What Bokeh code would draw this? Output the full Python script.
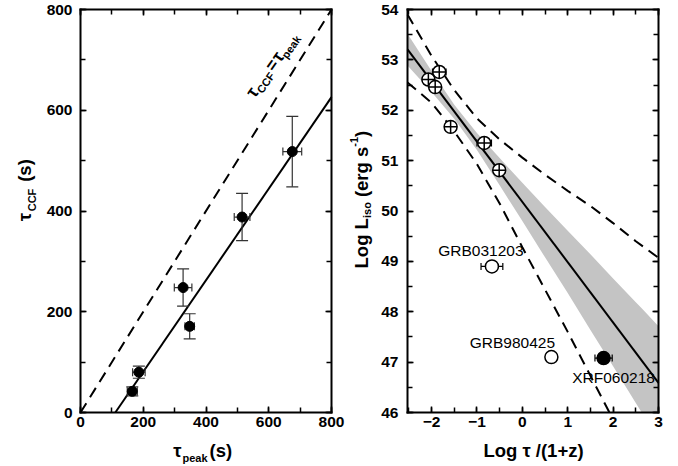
import math
from bokeh.plotting import figure
from bokeh.layouts import row
from bokeh.models import (ColumnDataSource, LinearAxis, SingleIntervalTicker, Range1d)
from bokeh.core.properties import value
from bokeh.embed import file_html
from bokeh.resources import INLINE

FONT = "Liberation Sans"

# ---------------- data: left panel ----------------
tau_peak = [165, 186, 327, 348, 515, 675]
tau_peak_err = [16, 20, 28, 15, 25, 30]
tau_ccf = [42, 80, 248, 171, 388, 518]
tau_ccf_err = [9, 12, 37, 25, 47, 70]
fit_left_x = [111, 800]
fit_left_y = [0, 626]
equal_x = [0, 800]
equal_y = [0, 800]

# ---------------- data: right panel ----------------
lag_x = [-2.07, -1.92, -1.83, -1.58, -0.84, -0.51]
lag_y = [52.61, 52.46, 52.76, 51.67, 51.35, 50.81]
lag_xerr = [0.12, 0.0, 0.15, 0.0, 0.16, 0.12]

out_names = ["GRB031203", "GRB980425", "XRF060218"]
out_x = [-0.67, 0.64, 1.79]
out_y = [48.90, 47.10, 47.08]
out_xerr = [0.24, 0.0, 0.19]

fit_right_x = [-2.53, 3.0]
fit_right_y = [53.21, 46.59]

band_x = [-2.53, -2.0, -1.5, -1.0, -0.5, 0.0, 0.5, 1.0, 1.5, 2.0, 2.5, 2.63, 3.0]
band_upper = [53.52, 52.78, 52.11, 51.55, 51.05, 50.56, 50.08, 49.61, 49.14, 48.66, 48.19, 48.07, 47.71]
band_lower = [52.89, 52.36, 51.83, 51.21, 50.51, 49.80, 49.08, 48.37, 47.64, 46.92, 46.19, 46.00, 46.00]

pred_upper_x = [-2.53, -2.0, -1.5, -1.0, -0.5, 0.0, 0.5, 1.0, 1.5, 2.0, 2.5, 3.0]
pred_upper_y = [53.90, 53.08, 52.40, 51.84, 51.42, 51.06, 50.72, 50.40, 50.10, 49.76, 49.40, 49.07]
pred_lower_x = [-2.53, -2.0, -1.5, -1.0, -0.5, 0.0, 0.5, 1.0, 1.5, 1.92]
pred_lower_y = [52.55, 52.15, 51.58, 50.93, 50.15, 49.28, 48.44, 47.60, 46.73, 46.00]

# ---------------- layout geometry (page pixels) ----------------
CH = 464                      # canvas height
BOX_Y0, BOX_Y1 = 9, 412       # top / bottom of both plot boxes
W1, W2 = 345, 331             # canvas widths
L_BOX = (80, 331)             # left box, page x
R_BOX = (407, 658)            # right box, page x
LXR, LYR = (0, 800), (0, 800)
RXR, RYR = (-2.53, 3.0), (46, 54)
DASH = "11 7"


class Panel:
    def __init__(self, cx0, cw, box, xr, yr):
        self.cx0, self.cw, self.box, self.xr, self.yr = cx0, cw, box, xr, yr
        self.kx = (xr[1] - xr[0]) / (box[1] - box[0])
        self.ky = (yr[1] - yr[0]) / (BOX_Y1 - BOX_Y0)

    def to_data(self, px, py):
        return (self.xr[0] + (px - self.box[0]) * self.kx,
                self.yr[0] + (BOX_Y1 - py) * self.ky)

    def ranges(self):
        x0, _ = self.to_data(self.cx0, 0)
        x1, _ = self.to_data(self.cx0 + self.cw, 0)
        _, y1 = self.to_data(0, 0)
        _, y0 = self.to_data(0, CH)
        return (x0, x1), (y0, y1)


def style_axis(ax, ticker, show, standoff):
    ax.ticker = ticker
    ax.axis_line_width = 2
    ax.axis_line_color = "black"
    ax.axis_line_cap = "square"
    ax.major_tick_in = 6
    ax.major_tick_out = 0
    ax.minor_tick_in = 5
    ax.minor_tick_out = 0
    ax.major_tick_line_width = 1.5
    ax.minor_tick_line_width = 1.5
    ax.major_tick_line_color = "black"
    ax.minor_tick_line_color = "black"
    ax.major_label_text_font = FONT
    ax.major_label_text_font_style = "bold"
    ax.major_label_text_font_size = "15.5px"
    ax.major_label_text_color = "black" if show else None
    ax.major_label_standoff = standoff


def make_fig(panel, xint, yint, xstand, ystand):
    (x0, x1), (y0, y1) = panel.ranges()
    p = figure(width=panel.cw, height=CH, title=None,
               x_range=Range1d(x0, x1), y_range=Range1d(y0, y1),
               x_axis_type=None, y_axis_type=None,
               output_backend="svg", toolbar_location=None,
               min_border_left=0, min_border_right=0,
               min_border_top=0, min_border_bottom=0)
    p.outline_line_color = None
    p.background_fill_color = "white"
    p.border_fill_color = "white"
    xr, yr = panel.xr, panel.yr
    specs = (("below", xint, True, yr[0], xr, xstand),
             ("above", xint, False, yr[1], xr, 0),
             ("left", yint, True, xr[0], yr, ystand),
             ("right", yint, False, xr[1], yr, 0))
    for loc, intv, show, fix, bnd, st in specs:
        ax = LinearAxis(fixed_location=fix, bounds=bnd)
        style_axis(ax, SingleIntervalTicker(interval=intv, num_minor_ticks=2), show, st)
        p.add_layout(ax, loc)
    return p


def add_text(p, panel, px, py, text, size, angle=0):
    """centred text at page pixel (px, py)"""
    x, y = panel.to_data(px, py)
    p.text(x=[x], y=[y], text=[text], text_font=value(FONT), text_font_size=size,
           text_font_style="bold", text_color="black", angle=angle,
           angle_units="deg", text_align="center", text_baseline="middle")


# ================= left panel =================
P1 = Panel(0, W1, L_BOX, LXR, LYR)
p1 = make_fig(P1, 200, 200, 4, 8)

p1.line(equal_x, equal_y, line_color="black", line_width=2, line_dash=DASH)
p1.line(fit_left_x, fit_left_y, line_color="black", line_width=2)

src1 = ColumnDataSource(dict(
    x=tau_peak, y=tau_ccf,
    xl=[a - e for a, e in zip(tau_peak, tau_peak_err)],
    xu=[a + e for a, e in zip(tau_peak, tau_peak_err)],
    yl=[a - e for a, e in zip(tau_ccf, tau_ccf_err)],
    yu=[a + e for a, e in zip(tau_ccf, tau_ccf_err)],
))
EC = "#333333"
p1.segment(x0="xl", y0="y", x1="xu", y1="y", source=src1, line_color=EC, line_width=1.2)
p1.segment(x0="x", y0="yl", x1="x", y1="yu", source=src1, line_color=EC, line_width=1.2)
for col in ("xl", "xu"):
    p1.scatter(x=col, y="y", source=src1, marker="dash", size=8, angle=math.pi / 2,
               line_color=EC, line_width=1.2)
for col in ("yl", "yu"):
    p1.scatter(x="x", y=col, source=src1, marker="dash", size=12,
               line_color=EC, line_width=1.2)
p1.scatter(x="x", y="y", source=src1, marker="circle", size=10,
           fill_color="black", line_color="black")

# label along the dashed line: (along, perpendicular-down) offsets from first tau
ANG = 55
ca, sa = math.cos(math.radians(ANG)), math.sin(math.radians(ANG))
BASE = (251.7, 91.7)
for (al, pe), txt, sz in (((0, 0), "τ", "18px"),
                          ((15.5, 5.5), "CCF", "11px"),
                          ((33.5, 0.5), "=", "17px"),
                          ((43.5, 0.5), "τ", "18px"),
                          ((59.5, 6.0), "peak", "11px")):
    px = BASE[0] + al * ca + pe * sa
    py = BASE[1] - al * sa + pe * ca
    add_text(p1, P1, px, py, txt, sz, angle=ANG)

# axis titles
add_text(p1, P1, 177.0, 450.0, "τ", "18.5px")
add_text(p1, P1, 194.5, 457.5, "peak", "11px")
add_text(p1, P1, 220.3, 450.0, "(s)", "18.5px")

add_text(p1, P1, 24.0, 216.5, "τ", "18.5px", angle=90)
add_text(p1, P1, 31.0, 199.5, "CCF", "11px", angle=90)
add_text(p1, P1, 24.0, 170.0, "(s)", "18.5px", angle=90)

# ================= right panel =================
P2 = Panel(W1, W2, R_BOX, RXR, RYR)
p2 = make_fig(P2, 1, 1, 4, 9)

p2.varea(x=band_x, y1=band_lower, y2=band_upper, fill_color="#c4c4c4", fill_alpha=1)
p2.line(pred_upper_x, pred_upper_y, line_color="black", line_width=2, line_dash=DASH)
p2.line(pred_lower_x, pred_lower_y, line_color="black", line_width=2, line_dash=DASH)
p2.line(fit_right_x, fit_right_y, line_color="black", line_width=2)

ex, ey, el, eu = [], [], [], []
for x, y, e in list(zip(lag_x, lag_y, lag_xerr)) + list(zip(out_x, out_y, out_xerr)):
    if e > 0:
        ex.append(x); ey.append(y); el.append(x - e); eu.append(x + e)
src_e = ColumnDataSource(dict(x=ex, y=ey, xl=el, xu=eu))
p2.segment(x0="xl", y0="y", x1="xu", y1="y", source=src_e, line_color="black", line_width=1.2)
for col in ("xl", "xu"):
    p2.scatter(x=col, y="y", source=src_e, marker="dash", size=7, angle=math.pi / 2,
               line_color="black", line_width=1.2)

p2.scatter(x=lag_x, y=lag_y, marker="circle_cross", size=13, fill_color="white",
           line_color="black", line_width=1.5)
src_o = ColumnDataSource(dict(x=out_x, y=out_y, name=out_names,
                              fill=["white", "white", "black"],
                              dx=[-11, -39, 10], dy=[-16, -15, 19]))
p2.scatter(x="x", y="y", source=src_o, marker="circle", size=13, fill_color="fill",
           line_color="black", line_width=1.5)
p2.text(x="x", y="y", text="name", source=src_o, x_offset="dx", y_offset="dy",
        text_font=value(FONT), text_font_size="15.5px", text_color="black",
        text_align="center", text_baseline="middle")

# axis titles
add_text(p2, P2, 533.0, 450.0, "Log τ /(1+z)", "18.5px")

add_text(p2, P2, 360.6, 242.8, "Log L", "18.5px", angle=90)
add_text(p2, P2, 366.9, 209.6, "iso", "11px", angle=90)
add_text(p2, P2, 360.6, 171.4, "(erg s", "18.5px", angle=90)
add_text(p2, P2, 353.9, 141.3, "-1", "11px", angle=90)
add_text(p2, P2, 360.6, 133.3, ")", "18.5px", angle=90)

layout = row(p1, p2)
open("out.html", "w").write(file_html(layout, INLINE))
